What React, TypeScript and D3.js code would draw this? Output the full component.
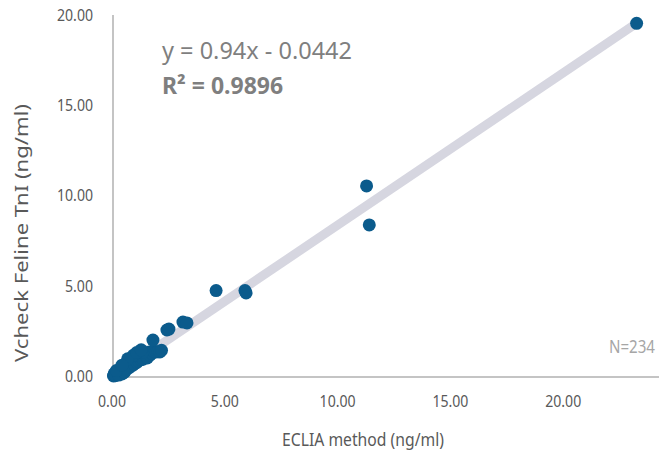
import React from "react";
import * as d3 from "d3";

const xTicks = [0, 5, 10, 15, 20];
const yTicks = [0, 5, 10, 15, 20];

// ECLIA method (x) vs Vcheck Feline TnI (y), ng/ml
const ecliaValues = [
  0.02, 0.05, 0.09, 0.12, 0.18, 0.2, 0.27, 0.3, 0.35, 0.4, 0.45, 0.49, 0.55, 0.58, 0.62, 0.66, 0.7,
  0.75, 0.8, 0.84, 0.88, 0.93, 0.98, 1.02, 1.06, 1.11, 1.15, 1.2, 1.26, 1.33, 1.4, 1.46, 1.52, 1.6,
  1.64, 1.72, 1.8, 1.91, 2.0, 2.08, 2.15, 0.1, 0.25, 0.5, 0.15, 0.9, 1.3, 0.65, 1.05, 0.4, 1.25,
  1.77, 2.39, 2.48, 3.1, 3.28, 4.57, 5.85, 5.9, 11.24, 11.36, 23.21,
];
const vcheckValues = [
  0.0, 0.12, 0.11, 0.2, 0.28, 0.1, 0.17, 0.32, 0.39, 0.11, 0.45, 0.55, 0.3, 0.39, 0.6, 0.66, 0.45,
  0.5, 0.75, 0.83, 0.6, 0.66, 0.9, 1.0, 0.75, 0.83, 1.08, 1.05, 0.9, 0.94, 1.2, 1.16, 1.0, 1.33,
  1.16, 1.25, 1.38, 1.33, 1.35, 1.33, 1.42, 0.02, 0.05, 0.2, 0.3, 1.15, 1.3, 0.95, 1.3, 0.6, 1.45,
  1.99, 2.55, 2.6, 2.99, 2.94, 4.73, 4.73, 4.6, 10.53, 8.37, 19.54,
];

// gray fitted line endpoints (data units)
const trendX = [0, 23.21];
const trendY = [-0.04, 19.54];

const equationText = "y = 0.94x - 0.0442";
const r2Text = "R² = 0.9896";
const nText = "N=234";
const xTitle = "ECLIA method (ng/ml)";
const yTitle = "Vcheck Feline TnI (ng/ml)";

const COND = 0.86;

export default function App() {
  const W = 659;
  const H = 456;
  const x = d3.scaleLinear().domain([0, 25]).range([113, 677]);
  const y = d3.scaleLinear().domain([0, 20]).range([376, 15]);
  const fmt = d3.format(".2f");
  const font = "'Noto Sans', 'Open Sans', sans-serif";
  const line = d3
    .line<number>()
    .x((_, i) => x(trendX[i]))
    .y((_, i) => y(trendY[i]));

  return (
    <svg
      width={W}
      height={H}
      style={{ position: "absolute", left: 0, top: 0, background: "#fff" }}
      fontFamily={font}
    >
      <rect width={W} height={H} fill="#fff" />
      {/* axes */}
      <line x1={x(0)} x2={x(0)} y1={y(20)} y2={y(0) + 1} stroke="#c4c4c4" strokeWidth={2} />
      <line x1={x(0)} x2={W} y1={y(0) + 1} y2={y(0) + 1} stroke="#c4c4c4" strokeWidth={2} />

      {/* y tick labels */}
      {yTicks.map((t) => (
        <g key={"y" + t} transform={`translate(93, ${y(t)}) scale(${COND}, 1)`}>
          <text dy="0.36em" textAnchor="end" fontSize={16.4} fill="#595959">
            {fmt(t)}
          </text>
        </g>
      ))}
      {/* x tick labels */}
      {xTicks.map((t) => (
        <g key={"x" + t} transform={`translate(${x(t) - 1}, 407) scale(${COND}, 1)`}>
          <text textAnchor="middle" fontSize={16.4} fill="#595959">
            {fmt(t)}
          </text>
        </g>
      ))}

      {/* trend line */}
      <path d={line([0, 1]) || ""} stroke="#d6d6e0" strokeWidth={9} fill="none" />

      {/* points */}
      {ecliaValues.map((v, i) => (
        <circle key={i} cx={x(v)} cy={y(vcheckValues[i])} r={6.5} fill="#0b5b8c" />
      ))}

      {/* annotations */}
      <text x={162} y={59} fontSize={23.5} fill="#7f7f7f">
        {equationText}
      </text>
      <text x={162} y={94} fontSize={23} fontWeight="bold" fill="#7f7f7f">
        {r2Text}
      </text>
      <g transform={`translate(655, 353) scale(0.84, 1)`}>
        <text textAnchor="end" fontSize={18} fill="#a6a6a6">
          {nText}
        </text>
      </g>

      {/* axis titles */}
      <g transform={`translate(363, 446) scale(0.85, 1)`}>
        <text textAnchor="middle" fontSize={18.5} fill="#595959">
          {xTitle}
        </text>
      </g>
      <text
        transform={`translate(28, 362) rotate(-90)`}
        fontSize={17.5}
        textLength={258}
        lengthAdjust="spacingAndGlyphs"
        fill="#595959"
      >
        {yTitle}
      </text>
    </svg>
  );
}
